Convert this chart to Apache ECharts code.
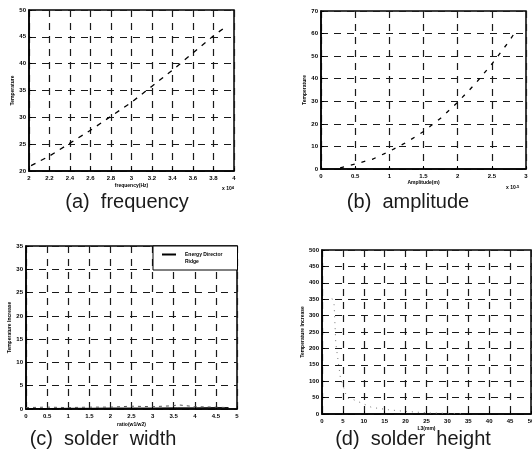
<!DOCTYPE html>
<html>
<head>
<meta charset="utf-8">
<script src="https://cdn.jsdelivr.net/npm/echarts@6/dist/echarts.min.js"></script>
<style>
html,body{margin:0;padding:0;background:#fff;}
#main{width:532px;height:461px;}
</style>
</head>
<body>
<div id="main"></div>
<script>
// (a) frequency
var freqTicks = [2, 2.2, 2.4, 2.6, 2.8, 3, 3.2, 3.4, 3.6, 3.8, 4];
var freqTempTicks = [20, 25, 30, 35, 40, 45, 50];
var freqX = [2.02, 2.2, 2.4, 2.6, 2.8, 3.0, 3.2, 3.4, 3.6, 3.8, 3.9];
var freqY = [21, 22.8, 25.2, 27.6, 30.2, 32.8, 35.8, 38.8, 42, 45.2, 46.6];
// (b) amplitude
var ampTicks = [0, 0.5, 1, 1.5, 2, 2.5, 3];
var ampTempTicks = [0, 10, 20, 30, 40, 50, 60, 70];
var ampX = [0.28, 0.5, 0.75, 1.0, 1.25, 1.5, 1.75, 2.0, 2.25, 2.5, 2.75, 2.87];
var ampY = [0.5, 2.2, 4.3, 7.8, 11.8, 16.6, 22.5, 29.6, 37.5, 46.5, 56.5, 62];
// (c) solder width
var ratioTicks = [0, 0.5, 1, 1.5, 2, 2.5, 3, 3.5, 4, 4.5, 5];
var widthTempTicks = [0, 5, 10, 15, 20, 25, 30, 35];
var ratioX = [0, 0.5, 1, 1.5, 2, 2.5, 3, 3.5, 3.6, 4, 4.5, 4.8];
var ridgeY = [0.3, 0.4, 0.3, 0.4, 0.4, 0.6, 0.5, 0.7, 0.9, 0.5, 0.4, 0.3];
var energyY = [0.1, 0.1, 0.15, 0.15, 0.2, 0.2, 0.2, 0.25, 0.25, 0.25, 0.3, 0.3];
// (d) solder height
var heightTicks = [0, 5, 10, 15, 20, 25, 30, 35, 40, 45, 50];
var heightTempTicks = [0, 50, 100, 150, 200, 250, 300, 350, 400, 450, 500];
var heightX = [2.4, 2.9, 3.3, 4.4, 4.9, 6, 7.5, 11.9, 15.9, 19.8, 26, 31, 34];
var heightY = [352, 333, 216, 110, 91, 49, 44, 20, 13, 8, 3, 2, 1];

function zip(xs, ys) {
    return xs.map(function (x, i) { return [x, ys[i]]; });
}
function fmt(v) {
    return String(+(+v).toFixed(2));
}
function axis(ticks, gridIndex, name, nameGap, isY) {
    return {
        type: 'value',
        gridIndex: gridIndex,
        min: ticks[0],
        max: ticks[ticks.length - 1],
        interval: ticks[1] - ticks[0],
        name: name,
        nameLocation: 'middle',
        nameGap: nameGap,
        nameTextStyle: {fontSize: 5, fontWeight: 'bold', color: '#000', fontFamily: 'Liberation Sans'},
        axisLine: {show: true, lineStyle: {color: '#000', width: 1.5}},
        axisTick: {show: true, inside: true, length: 3, lineStyle: {color: '#000'}},
        axisLabel: {fontSize: 6, fontWeight: 'bold', color: '#000', margin: isY ? 3 : 4,
            fontFamily: 'Liberation Sans', formatter: fmt, showMinLabel: true, showMaxLabel: true},
        splitLine: {show: true, lineStyle: {color: '#1a1a1a', width: 1.2, type: [7, 6]}}
    };
}
var lineBase = {type: 'line', showSymbol: false, symbol: 'none', animation: false};
var captionStyle = {fontSize: 20, fill: '#1a1a1a', align: 'center', verticalAlign: 'middle', fontFamily: 'Liberation Sans'};

var option = {
    animation: false,
    backgroundColor: '#fff',
    grid: [
        {left: 29, top: 10, width: 205, height: 161, show: true, borderColor: '#000', borderWidth: 1.5, outerBoundsMode: 'none'},
        {left: 321, top: 11, width: 205, height: 158, show: true, borderColor: '#000', borderWidth: 1.5, outerBoundsMode: 'none'},
        {left: 26, top: 246, width: 211, height: 163, show: true, borderColor: '#000', borderWidth: 1.5, outerBoundsMode: 'none'},
        {left: 322, top: 250, width: 209, height: 164, show: true, borderColor: '#000', borderWidth: 1.5, outerBoundsMode: 'none'}
    ],
    xAxis: [
        axis(freqTicks, 0, 'frequency(Hz)', 12, false),
        axis(ampTicks, 1, 'Amplitude(m)', 11, false),
        axis(ratioTicks, 2, 'ratio(w1/w2)', 13, false),
        axis(heightTicks, 3, 'L3(mm)', 12, false)
    ],
    yAxis: [
        axis(freqTempTicks, 0, 'Temperature', 13, true),
        axis(ampTempTicks, 1, 'Temperature', 13, true),
        axis(widthTempTicks, 2, 'Temperature Increase', 11, true),
        axis(heightTempTicks, 3, 'Temperature Increase', 15, true)
    ],
    legend: {
        orient: 'vertical',
        left: 153,
        top: 246,
        padding: [6, 15, 6, 9],
        itemWidth: 14,
        itemHeight: 2,
        itemGap: 2,
        backgroundColor: '#fff',
        borderColor: '#000',
        borderWidth: 1,
        textStyle: {fontSize: 5, fontWeight: 'bold', color: '#000', fontFamily: 'Liberation Sans', padding: [0, 0, 0, 4]},
        data: [
            {name: 'Energy Director', icon: 'rect', itemStyle: {color: '#000'}},
            {name: 'Ridge', icon: 'rect', itemStyle: {color: '#fff', opacity: 0}}
        ]
    },
    series: [
        Object.assign({}, lineBase, {name: 'frequency', xAxisIndex: 0, yAxisIndex: 0, data: zip(freqX, freqY),
            lineStyle: {color: '#000', width: 1.3, type: [5, 6]}}),
        Object.assign({}, lineBase, {name: 'amplitude', xAxisIndex: 1, yAxisIndex: 1, data: zip(ampX, ampY),
            lineStyle: {color: '#000', width: 1.3, type: [4, 7]}}),
        Object.assign({}, lineBase, {name: 'Energy Director', xAxisIndex: 2, yAxisIndex: 2, data: zip(ratioX, energyY),
            lineStyle: {color: '#000', width: 1}, itemStyle: {color: '#000'}}),
        Object.assign({}, lineBase, {name: 'Ridge', xAxisIndex: 2, yAxisIndex: 2, data: zip(ratioX, ridgeY),
            lineStyle: {color: '#555', width: 1, type: [3, 4]}, itemStyle: {color: '#555'}}),
        Object.assign({}, lineBase, {name: 'height', xAxisIndex: 3, yAxisIndex: 3, data: zip(heightX, heightY),
            lineStyle: {color: '#777', width: 1, type: [1, 5]}})
    ],
    graphic: [
        {type: 'text', left: 222, top: 186, style: {text: 'x 10{s|4}', fontSize: 5, fontWeight: 'bold', fill: '#000',
            fontFamily: 'Liberation Sans', rich: {s: {fontSize: 4, fontWeight: 'bold', verticalAlign: 'top'}}}},
        {type: 'text', left: 506, top: 185, style: {text: 'x 10{s|-5}', fontSize: 5, fontWeight: 'bold', fill: '#000',
            fontFamily: 'Liberation Sans', rich: {s: {fontSize: 4, fontWeight: 'bold', verticalAlign: 'top'}}}},
        {type: 'text', x: 127, y: 202, style: Object.assign({text: '(a)  frequency'}, captionStyle)},
        {type: 'text', x: 408, y: 202, style: Object.assign({text: '(b)  amplitude'}, captionStyle)},
        {type: 'text', x: 103, y: 439, style: Object.assign({text: '(c)  solder  width'}, captionStyle)},
        {type: 'text', x: 413, y: 439, style: Object.assign({text: '(d)  solder  height'}, captionStyle)}
    ]
};
var chart = echarts.init(document.getElementById('main'));
chart.setOption(option);
</script>
</body>
</html>
